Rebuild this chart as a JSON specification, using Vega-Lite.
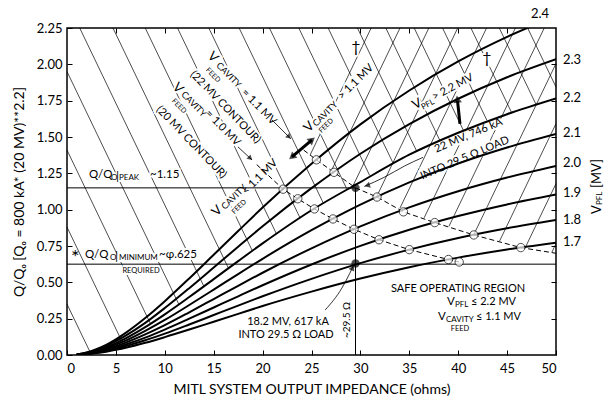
{
"$schema": "https://vega.github.io/schema/vega-lite/v6.json",
"width": 489, "height": 327,
"autosize": {"type": "none"},
"padding": {"left": 67, "top": 28, "right": 48, "bottom": 43},
"background": "white",
"config": {"font": "Lato", "view": {"stroke": "black", "strokeWidth": 1.5},
  "axis": {"domain": false, "grid": false, "labelFont": "Lato", "titleFont": "Lato", "labelColor": "black", "titleColor": "black", "tickColor": "black", "titleFontWeight": "normal"},
  "text": {"font": "Lato", "color": "black"}},
"datasets": {
  "tA13": [{"x":14.62,"y":2.072,"t":"V"},{"x":11.04,"y":1.858,"t":"V"}],
  "tA9": [{"x":15.44,"y":2.003,"t":"CAVITY"},{"x":11.86,"y":1.803,"t":"CAVITY"}],
  "tA11": [{"x":18.0,"y":1.817,"t":"= 1.1 MV"},{"x":12.78,"y":1.941,"t":"(22 MV CONTOUR)"},{"x":14.31,"y":1.672,"t":"= 1.0 MV"},{"x":9.30,"y":1.70,"t":"(20 MV CONTOUR)"}],
  "tA7": [{"x":14.31,"y":1.968,"t":"FEED"},{"x":10.84,"y":1.755,"t":"FEED"}],
  "tC13": [{"x":24.44,"y":1.549,"t":"V"},{"x":15.03,"y":0.970,"t":"V"}],
  "tC9": [{"x":25.26,"y":1.583,"t":"CAVITY"},{"x":15.95,"y":1.012,"t":"CAVITY"}],
  "tC11": [{"x":27.91,"y":1.769,"t":"> 1.1 MV"},{"x":18.1,"y":1.115,"t":"< 1.1 MV"}],
  "tC7": [{"x":25.87,"y":1.535,"t":"FEED"},{"x":16.97,"y":0.977,"t":"FEED"}],
  "tE13": [{"x":35.38,"y":1.714,"t":"V"}],
  "tE8": [{"x":36.3,"y":1.70,"t":"PFL"}],
  "tE11": [{"x":37.42,"y":1.769,"t":"> 2.2 MV"}],
  "tF11": [{"x":37.63,"y":1.411,"t":"22 MV, 746 kA"},{"x":36.2,"y":1.225,"t":"INTO 29.5 Ω LOAD"}],
  "tG11": [{"x":22.6,"y":0.227,"t":"18.2 MV, 617 kA"},{"x":22.39,"y":0.138,"t":"INTO 29.5 Ω LOAD"},{"x":39.98,"y":0.457,"t":"SAFE OPERATING REGION"}],
  "tH10": [{"x":28.63,"y":0.241,"t":"~29.5 Ω"}],
  "tQ11": [{"x":2.25,"y":1.239,"t":"Q/Q"},{"x":8.49,"y":1.239,"t":"~1.15"},{"x":1.84,"y":0.688,"t":"Q/Q"},{"x":9.41,"y":0.688,"t":"~φ.625"},{"x":38.85,"y":0.365,"t":"V"},{"x":37.93,"y":0.262,"t":"V"}],
  "tS11": [{"x":41.31,"y":0.365,"t":"≤ 2.2 MV"},{"x":41.82,"y":0.262,"t":"≤ 1.1 MV"}],
  "tQ8": [{"x":4.5,"y":1.218,"t":"O"},{"x":5.32,"y":1.218,"t":"PEAK"},{"x":4.40,"y":0.668,"t":"O"},{"x":5.32,"y":0.668,"t":"MINIMUM"},{"x":39.67,"y":0.344,"t":"PFL"},{"x":38.75,"y":0.241,"t":"CAVITY"}],
  "tBar": [{"x":5.01,"y":1.232,"t":"|"},{"x":4.91,"y":0.681,"t":"|"}],
  "tQ7": [{"x":7.57,"y":0.578,"t":"REQUIRED"},{"x":40.18,"y":0.180,"t":"FEED"}],
  "tStar": [{"x":0.41,"y":0.668,"t":"*"}],
  "tDag": [{"x":29.55,"y":2.12,"t":"†"},{"x":42.94,"y":2.044,"t":"†"}]
},
"encoding": {
  "x": {"field": "x", "type": "quantitative", "scale": {"domain": [0, 50], "nice": false, "zero": false}, "axis": null},
  "y": {"field": "y", "type": "quantitative", "scale": {"domain": [0, 2.25], "nice": false, "zero": false}, "axis": null}
},
"layer": [
{
  "data": {"values": [
    {"x":0,"y":0.35,"x2":2.36,"y2":0.02},{"x":0,"y":0.88,"x2":5.57,"y2":0.10},{"x":0,"y":1.41,"x2":8.53,"y2":0.216},{"x":0,"y":1.95,"x2":11.44,"y2":0.348},
    {"x":1.3,"y":2.25,"x2":14.0,"y2":0.472},{"x":4.7,"y":2.25,"x2":16.51,"y2":0.597},{"x":8.0,"y":2.25,"x2":18.95,"y2":0.717},{"x":11.3,"y":2.25,"x2":21.42,"y2":0.833},
    {"x":14.5,"y":2.25,"x2":23.84,"y2":0.942},{"x":17.6,"y":2.25,"x2":26.2,"y2":1.046},{"x":20.7,"y":2.25,"x2":28.6,"y2":1.144},{"x":23.7,"y":2.25,"x2":30.95,"y2":1.235},
    {"x":26.7,"y":2.25,"x2":33.35,"y2":1.319},{"x":29.7,"y":2.25,"x2":35.76,"y2":1.402},{"x":32.6,"y":2.25,"x2":38.15,"y2":1.473},{"x":35.5,"y":2.25,"x2":40.55,"y2":1.543},
    {"x":38.4,"y":2.25,"x2":43.0,"y2":1.606},{"x":41.3,"y":2.25,"x2":45.46,"y2":1.668},{"x":44.2,"y":2.25,"x2":47.98,"y2":1.721},{"x":47.1,"y":2.25,"x2":50,"y2":1.844}
  ]},
  "mark": {"type": "rule", "color": "black", "strokeWidth": 0.7},
  "encoding": {
    "x": {"field": "x", "type": "quantitative", "scale": {"domain": [0, 50], "nice": false, "zero": false},
      "axis": {"orient": "bottom", "values": [0,5,10,15,20,25,30,35,40,45,50], "tickSize": -5, "labelPadding": 12, "labelFontSize": 13, "title": "MITL SYSTEM OUTPUT IMPEDANCE (ohms)", "titleFontSize": 14, "titlePadding": 7}},
    "y": {"field": "y", "type": "quantitative", "scale": {"domain": [0, 2.25], "nice": false, "zero": false},
      "axis": {"orient": "left", "values": [0,0.25,0.5,0.75,1,1.25,1.5,1.75,2,2.25], "format": ".2f", "tickSize": -5, "labelPadding": 10, "labelFontSize": 13, "title": "Q/Qₒ [Qₒ = 800 kA* (20 MV)**2.2]", "titleFontSize": 14, "titlePadding": 10}},
    "x2": {"field": "x2"}, "y2": {"field": "y2"}
  }
},
{
  "data": {"values": [
    {"x":24.85,"y":1.375,"x2":31.1,"y2":2.25},{"x":27.02,"y":1.266,"x2":34.05,"y2":2.25},{"x":29.23,"y":1.162,"x2":37.0,"y2":2.25},
    {"x":31.65,"y":1.088,"x2":39.95,"y2":2.25},{"x":34.04,"y":1.01,"x2":42.9,"y2":2.25},{"x":36.52,"y":0.944,"x2":45.85,"y2":2.25},{"x":39.05,"y":0.885,"x2":48.8,"y2":2.25},
    {"x":41.63,"y":0.833,"x2":50,"y2":2.005},{"x":44.23,"y":0.784,"x2":50,"y2":1.592},{"x":46.85,"y":0.738,"x2":50,"y2":1.179},{"x":49.57,"y":0.706,"x2":50,"y2":0.766}
  ]},
  "mark": {"type": "rule", "color": "black", "strokeWidth": 0.7},
  "encoding": {
    "x": {"field": "x", "type": "quantitative", "scale": {"domain": [0, 50], "nice": false, "zero": false},
      "axis": {"orient": "top", "values": [5,10,15,20,25,30,35,40,45], "tickSize": -5, "labels": false, "title": null}},
    "y": {"field": "y", "type": "quantitative", "scale": {"domain": [0, 2.25], "nice": false, "zero": false},
      "axis": {"orient": "right", "values": [0.25,0.5,0.75,1,1.25,1.5,1.75,2], "tickSize": -5, "labels": false, "title": null}},
    "x2": {"field": "x2"}, "y2": {"field": "y2"}
  }
},
{"data": {"name": "tA13"}, "mark": {"type": "text", "angle": 46, "fontSize": 13, "align": "left", "baseline": "middle", "color": "white", "stroke": "white", "strokeWidth": 4}, "encoding": {"text": {"field": "t"}}},
{"data": {"name": "tA9"}, "mark": {"type": "text", "angle": 46, "fontSize": 9, "align": "left", "baseline": "middle", "color": "white", "stroke": "white", "strokeWidth": 4}, "encoding": {"text": {"field": "t"}}},
{"data": {"name": "tA11"}, "mark": {"type": "text", "angle": 46, "fontSize": 11, "align": "left", "baseline": "middle", "color": "white", "stroke": "white", "strokeWidth": 4}, "encoding": {"text": {"field": "t"}}},
{"data": {"name": "tA7"}, "mark": {"type": "text", "angle": 46, "fontSize": 7, "align": "left", "baseline": "middle", "color": "white", "stroke": "white", "strokeWidth": 4}, "encoding": {"text": {"field": "t"}}},
{"data": {"name": "tC13"}, "mark": {"type": "text", "angle": -45, "fontSize": 13, "align": "left", "baseline": "middle", "color": "white", "stroke": "white", "strokeWidth": 4}, "encoding": {"text": {"field": "t"}}},
{"data": {"name": "tC9"}, "mark": {"type": "text", "angle": -45, "fontSize": 9, "align": "left", "baseline": "middle", "color": "white", "stroke": "white", "strokeWidth": 4}, "encoding": {"text": {"field": "t"}}},
{"data": {"name": "tC11"}, "mark": {"type": "text", "angle": -45, "fontSize": 11, "align": "left", "baseline": "middle", "color": "white", "stroke": "white", "strokeWidth": 4}, "encoding": {"text": {"field": "t"}}},
{"data": {"name": "tC7"}, "mark": {"type": "text", "angle": -45, "fontSize": 7, "align": "left", "baseline": "middle", "color": "white", "stroke": "white", "strokeWidth": 4}, "encoding": {"text": {"field": "t"}}},
{"data": {"name": "tE13"}, "mark": {"type": "text", "angle": -28, "fontSize": 13, "align": "left", "baseline": "middle", "color": "white", "stroke": "white", "strokeWidth": 4}, "encoding": {"text": {"field": "t"}}},
{"data": {"name": "tE8"}, "mark": {"type": "text", "angle": -28, "fontSize": 8, "align": "left", "baseline": "middle", "color": "white", "stroke": "white", "strokeWidth": 4}, "encoding": {"text": {"field": "t"}}},
{"data": {"name": "tE11"}, "mark": {"type": "text", "angle": -28, "fontSize": 11, "align": "left", "baseline": "middle", "color": "white", "stroke": "white", "strokeWidth": 4}, "encoding": {"text": {"field": "t"}}},
{"data": {"name": "tF11"}, "mark": {"type": "text", "angle": -23, "fontSize": 11, "align": "left", "baseline": "middle", "color": "white", "stroke": "white", "strokeWidth": 4}, "encoding": {"text": {"field": "t"}}},
{"data": {"name": "tG11"}, "mark": {"type": "text", "fontSize": 11, "align": "center", "baseline": "middle", "color": "white", "stroke": "white", "strokeWidth": 4}, "encoding": {"text": {"field": "t"}}},
{"data": {"name": "tH10"}, "mark": {"type": "text", "angle": -90, "fontSize": 10, "align": "center", "baseline": "middle", "color": "white", "stroke": "white", "strokeWidth": 4}, "encoding": {"text": {"field": "t"}}},
{"data": {"name": "tQ11"}, "mark": {"type": "text", "fontSize": 11.5, "align": "left", "baseline": "middle", "color": "white", "stroke": "white", "strokeWidth": 4}, "encoding": {"text": {"field": "t"}}},
{"data": {"name": "tQ8"}, "mark": {"type": "text", "fontSize": 8, "align": "left", "baseline": "middle", "color": "white", "stroke": "white", "strokeWidth": 4}, "encoding": {"text": {"field": "t"}}},
{"data": {"name": "tQ7"}, "mark": {"type": "text", "fontSize": 7, "align": "center", "baseline": "middle", "color": "white", "stroke": "white", "strokeWidth": 4}, "encoding": {"text": {"field": "t"}}},
{"data": {"name": "tDag"}, "mark": {"type": "text", "fontSize": 16, "align": "center", "baseline": "middle", "color": "white", "stroke": "white", "strokeWidth": 4}, "encoding": {"text": {"field": "t"}}},
{
  "data": {"values": [
    {"x":0,"y":1.15,"x2":29.5,"y2":1.15},{"x":0,"y":0.625,"x2":50,"y2":0.625},{"x":29.5,"y":0,"x2":29.5,"y2":1.15}
  ]},
  "mark": {"type": "rule", "color": "black", "strokeWidth": 1},
  "encoding": {"x2": {"field": "x2"}, "y2": {"field": "y2"}}
},
{
  "data": {"values": [
    {"c":"u","x":24.2,"y":1.41},{"c":"u","x":25.5,"y":1.343},{"c":"u","x":27.3,"y":1.257},{"c":"u","x":29.5,"y":1.15},{"c":"u","x":31.7,"y":1.087},{"c":"u","x":34.4,"y":0.985},{"c":"u","x":37.6,"y":0.911},{"c":"u","x":41.6,"y":0.826},{"c":"u","x":46.4,"y":0.739},{"c":"u","x":50,"y":0.70},
    {"c":"l","x":19.4,"y":1.31},{"c":"l","x":22.1,"y":1.141},{"c":"l","x":23.6,"y":1.075},{"c":"l","x":25.3,"y":1.005},{"c":"l","x":27.2,"y":0.936},{"c":"l","x":29.35,"y":0.865},{"c":"l","x":31.9,"y":0.793},{"c":"l","x":35.0,"y":0.725},{"c":"l","x":39.0,"y":0.657},{"c":"l","x":40.1,"y":0.64}
  ]},
  "mark": {"type": "line", "color": "black", "strokeWidth": 1, "strokeDash": [5, 3]},
  "encoding": {"detail": {"field": "c"}, "order": {"field": "x", "type": "quantitative"}}
},
{
  "data": {"values": [
    {"x":1,"p24":0.004,"p23":0.003,"p22":0.003,"p21":0.003,"p20":0.002,"p19":0.002,"p18":0.002,"p17":0.001},
    {"x":2,"p24":0.017,"p23":0.015,"p22":0.013,"p21":0.011,"p20":0.010,"p19":0.008,"p18":0.007,"p17":0.006},
    {"x":3,"p24":0.040,"p23":0.035,"p22":0.030,"p21":0.026,"p20":0.022,"p19":0.019,"p18":0.016,"p17":0.013},
    {"x":4,"p24":0.070,"p23":0.061,"p22":0.053,"p21":0.046,"p20":0.039,"p19":0.033,"p18":0.028,"p17":0.023},
    {"x":5,"p24":0.108,"p23":0.095,"p22":0.082,"p21":0.071,"p20":0.060,"p19":0.051,"p18":0.043,"p17":0.036},
    {"x":6,"p24":0.152,"p23":0.133,"p22":0.115,"p21":0.099,"p20":0.085,"p19":0.072,"p18":0.061,"p17":0.050},
    {"x":8,"p24":0.254,"p23":0.221,"p22":0.192,"p21":0.166,"p20":0.142,"p19":0.120,"p18":0.101,"p17":0.084},
    {"x":10,"p24":0.370,"p23":0.323,"p22":0.280,"p21":0.241,"p20":0.206,"p19":0.175,"p18":0.147,"p17":0.123},
    {"x":12.5,"p24":0.527,"p23":0.460,"p22":0.399,"p21":0.344,"p20":0.294,"p19":0.250,"p18":0.210,"p17":0.175},
    {"x":15,"p24":0.690,"p23":0.602,"p22":0.522,"p21":0.450,"p20":0.385,"p19":0.327,"p18":0.275,"p17":0.229},
    {"x":17.5,"p24":0.853,"p23":0.745,"p22":0.646,"p21":0.557,"p20":0.476,"p19":0.404,"p18":0.340,"p17":0.283},
    {"x":20,"p24":1.015,"p23":0.886,"p22":0.768,"p21":0.662,"p20":0.566,"p19":0.480,"p18":0.404,"p17":0.337},
    {"x":25,"p24":1.316,"p23":1.148,"p22":0.996,"p21":0.859,"p20":0.734,"p19":0.623,"p18":0.524,"p17":0.436},
    {"x":30,"p24":1.587,"p23":1.385,"p22":1.190,"p21":1.035,"p20":0.885,"p19":0.751,"p18":0.632,"p17":0.526},
    {"x":35,"p24":1.820,"p23":1.589,"p22":1.378,"p21":1.188,"p20":1.016,"p19":0.862,"p18":0.725,"p17":0.604},
    {"x":40,"p24":2.020,"p23":1.763,"p22":1.529,"p21":1.318,"p20":1.127,"p19":0.956,"p18":0.805,"p17":0.670},
    {"x":45,"p24":2.189,"p23":1.911,"p22":1.657,"p21":1.428,"p20":1.221,"p19":1.036,"p18":0.872,"p17":0.726},
    {"x":50,"p24":2.332,"p23":2.035,"p22":1.765,"p21":1.521,"p20":1.301,"p19":1.104,"p18":0.929,"p17":0.773}
  ]},
  "transform": [{"fold": ["p24","p23","p22","p21","p20","p19","p18","p17"], "as": ["v", "y"]}],
  "mark": {"type": "line", "color": "black", "strokeWidth": 2, "interpolate": "monotone", "clip": true},
  "encoding": {"detail": {"field": "v"}, "order": {"field": "x", "type": "quantitative"}}
},
{
  "data": {"values": [
    {"x":25.5,"y":1.343},{"x":27.3,"y":1.257},{"x":31.7,"y":1.087},{"x":34.4,"y":0.985},{"x":37.6,"y":0.911},{"x":41.6,"y":0.826},{"x":46.4,"y":0.739},
    {"x":22.1,"y":1.141},{"x":23.6,"y":1.075},{"x":25.3,"y":1.005},{"x":27.2,"y":0.936},{"x":29.35,"y":0.865},{"x":31.9,"y":0.793},{"x":35.0,"y":0.725},{"x":39.0,"y":0.657},{"x":40.1,"y":0.64}
  ]},
  "mark": {"type": "point", "shape": "circle", "size": 70, "filled": true, "fill": "white", "stroke": "black", "strokeWidth": 1}
},
{
  "data": {"values": [{"x":29.5,"y":1.15},{"x":29.5,"y":0.63}]},
  "mark": {"type": "point", "shape": "circle", "size": 70, "filled": true, "color": "black"}
},
{
  "data": {"values": [
    {"g":"a","x":20.96,"y":1.617},{"g":"a","x":22.9,"y":1.487},
    {"g":"b","x":17.48,"y":1.432},{"g":"b","x":18.92,"y":1.342},
    {"g":"f","x":30.4,"y":1.16},{"g":"f","x":32.5,"y":1.225},{"g":"f","x":34.5,"y":1.30},{"g":"f","x":36.4,"y":1.36},
    {"g":"g","x":26.4,"y":0.31},{"g":"g","x":28.1,"y":0.46},{"g":"g","x":28.9,"y":0.56},{"g":"g","x":29.25,"y":0.61}
  ]},
  "mark": {"type": "line", "color": "black", "strokeWidth": 0.8, "interpolate": "monotone"},
  "encoding": {"detail": {"field": "g"}}
},
{
  "data": {"values": [
    {"g":"d","x":23.0,"y":1.363},{"g":"d","x":25.05,"y":1.48},
    {"g":"p","x":40.18,"y":1.59},{"g":"p","x":39.93,"y":1.75}
  ]},
  "mark": {"type": "line", "color": "black", "strokeWidth": 3},
  "encoding": {"detail": {"field": "g"}}
},
{"data": {"values": [{"x":22.7,"y":1.50}]}, "mark": {"type": "point", "shape": "triangle-right", "angle": 45, "size": 35, "filled": true, "color": "black"}},
{"data": {"values": [{"x":18.75,"y":1.353}]}, "mark": {"type": "point", "shape": "triangle-right", "angle": 42, "size": 35, "filled": true, "color": "black"}},
{"data": {"values": [{"x":25.05,"y":1.48}]}, "mark": {"type": "point", "shape": "triangle-right", "angle": -40, "size": 70, "filled": true, "color": "black"}},
{"data": {"values": [{"x":23.0,"y":1.363}]}, "mark": {"type": "point", "shape": "triangle-left", "angle": -40, "size": 70, "filled": true, "color": "black"}},
{"data": {"values": [{"x":39.91,"y":1.76}]}, "mark": {"type": "point", "shape": "triangle-up", "angle": -7, "size": 70, "filled": true, "color": "black"}},
{"data": {"values": [{"x":30.7,"y":1.166}]}, "mark": {"type": "point", "shape": "triangle-left", "angle": -17, "size": 40, "filled": true, "color": "black"}},
{"data": {"values": [{"x":29.2,"y":0.60}]}, "mark": {"type": "point", "shape": "triangle-up", "angle": 25, "size": 40, "filled": true, "color": "black"}},
{"data": {"name": "tA13"}, "mark": {"type": "text", "angle": 46, "fontSize": 13, "align": "left", "baseline": "middle"}, "encoding": {"text": {"field": "t"}}},
{"data": {"name": "tA9"}, "mark": {"type": "text", "angle": 46, "fontSize": 9, "align": "left", "baseline": "middle"}, "encoding": {"text": {"field": "t"}}},
{"data": {"name": "tA11"}, "mark": {"type": "text", "angle": 46, "fontSize": 11, "align": "left", "baseline": "middle"}, "encoding": {"text": {"field": "t"}}},
{"data": {"name": "tA7"}, "mark": {"type": "text", "angle": 46, "fontSize": 7, "align": "left", "baseline": "middle"}, "encoding": {"text": {"field": "t"}}},
{"data": {"name": "tC13"}, "mark": {"type": "text", "angle": -45, "fontSize": 13, "align": "left", "baseline": "middle"}, "encoding": {"text": {"field": "t"}}},
{"data": {"name": "tC9"}, "mark": {"type": "text", "angle": -45, "fontSize": 9, "align": "left", "baseline": "middle"}, "encoding": {"text": {"field": "t"}}},
{"data": {"name": "tC11"}, "mark": {"type": "text", "angle": -45, "fontSize": 11, "align": "left", "baseline": "middle"}, "encoding": {"text": {"field": "t"}}},
{"data": {"name": "tC7"}, "mark": {"type": "text", "angle": -45, "fontSize": 7, "align": "left", "baseline": "middle"}, "encoding": {"text": {"field": "t"}}},
{"data": {"name": "tE13"}, "mark": {"type": "text", "angle": -28, "fontSize": 13, "align": "left", "baseline": "middle"}, "encoding": {"text": {"field": "t"}}},
{"data": {"name": "tE8"}, "mark": {"type": "text", "angle": -28, "fontSize": 8, "align": "left", "baseline": "middle"}, "encoding": {"text": {"field": "t"}}},
{"data": {"name": "tE11"}, "mark": {"type": "text", "angle": -28, "fontSize": 11, "align": "left", "baseline": "middle"}, "encoding": {"text": {"field": "t"}}},
{"data": {"name": "tF11"}, "mark": {"type": "text", "angle": -23, "fontSize": 11, "align": "left", "baseline": "middle"}, "encoding": {"text": {"field": "t"}}},
{"data": {"name": "tG11"}, "mark": {"type": "text", "fontSize": 11, "align": "center", "baseline": "middle"}, "encoding": {"text": {"field": "t"}}},
{"data": {"name": "tH10"}, "mark": {"type": "text", "angle": -90, "fontSize": 10, "align": "center", "baseline": "middle"}, "encoding": {"text": {"field": "t"}}},
{"data": {"name": "tQ11"}, "mark": {"type": "text", "fontSize": 11.5, "align": "left", "baseline": "middle"}, "encoding": {"text": {"field": "t"}}},
{"data": {"name": "tS11"}, "mark": {"type": "text", "fontSize": 11, "align": "left", "baseline": "middle"}, "encoding": {"text": {"field": "t"}}},
{"data": {"name": "tQ8"}, "mark": {"type": "text", "fontSize": 8, "align": "left", "baseline": "middle"}, "encoding": {"text": {"field": "t"}}},
{"data": {"name": "tBar"}, "mark": {"type": "text", "fontSize": 12, "align": "left", "baseline": "middle"}, "encoding": {"text": {"field": "t"}}},
{"data": {"name": "tQ7"}, "mark": {"type": "text", "fontSize": 7.5, "align": "center", "baseline": "middle"}, "encoding": {"text": {"field": "t"}}},
{"data": {"name": "tStar"}, "mark": {"type": "text", "fontSize": 20, "align": "left", "baseline": "middle"}, "encoding": {"text": {"field": "t"}}},
{"data": {"name": "tDag"}, "mark": {"type": "text", "fontSize": 16, "align": "center", "baseline": "middle"}, "encoding": {"text": {"field": "t"}}},
{"data": {"values": [{"x":50,"y":2.030,"t":"2.3"},{"x":50,"y":1.769,"t":"2.2"},{"x":50,"y":1.528,"t":"2.1"},{"x":50,"y":1.321,"t":"2.0"},{"x":50,"y":1.115,"t":"1.9"},{"x":50,"y":0.929,"t":"1.8"},{"x":50,"y":0.778,"t":"1.7"}]}, "mark": {"type": "text", "fontSize": 13, "align": "left", "baseline": "middle", "dx": 7}, "encoding": {"text": {"field": "t"}}},
{"data": {"values": [{"x":48.37,"y":2.347,"t":"2.4"}]}, "mark": {"type": "text", "fontSize": 13, "align": "center", "baseline": "middle"}, "encoding": {"text": {"field": "t"}}},
{"data": {"values": [{"x":54.19,"y":0.970,"t":"V"},{"x":54.19,"y":1.149,"t":"[MV]"}]}, "mark": {"type": "text", "angle": -90, "fontSize": 13, "align": "left", "baseline": "middle"}, "encoding": {"text": {"field": "t"}}},
{"data": {"values": [{"x":54.5,"y":1.032,"t":"PFL"}]}, "mark": {"type": "text", "angle": -90, "fontSize": 8, "align": "left", "baseline": "middle"}, "encoding": {"text": {"field": "t"}}}
],
"resolve": {"axis": {"x": "independent", "y": "independent"}}
}
